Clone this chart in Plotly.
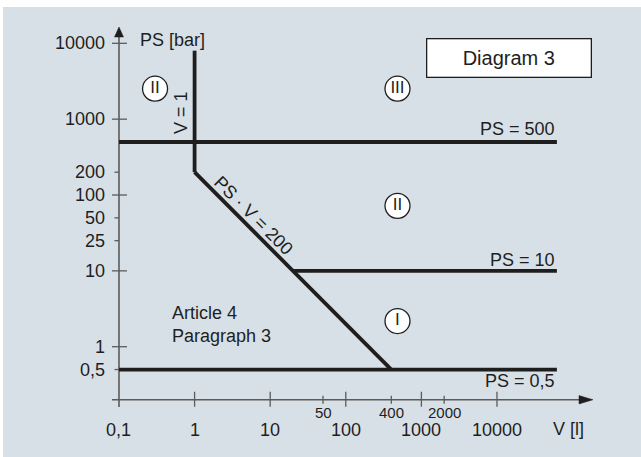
import numpy as np
import plotly.graph_objects as go

# ---- axis ticks (PS in bar, V in litres) ----
y_major = [10000, 1000, 100, 10, 1]
y_major_labels = ["10000", "1000", "100", "10", "1"]
y_minor = [200, 50, 25, 0.5]
y_minor_labels = ["200", "50", "25", "0,5"]
x_major = [1, 10, 100, 1000, 10000]
x_major_labels = ["1", "10", "100", "1000", "10000"]
x_minor = [50, 400, 2000]
x_minor_labels = ["50", "400", "2000"]
x_origin_label = "0,1"

# ---- category boundaries ----
ps500_v = [0.1, 62000]
ps500_p = [500, 500]
v1_v = [1, 1]
v1_p = [200, 8000]
psv200_v = [1, 400]
psv200_p = [200, 0.5]
ps10_v = [20, 62000]
ps10_p = [10, 10]
ps05_v = [0.1, 62000]
ps05_p = [0.5, 0.5]

# ---- category markers ----
cat_text = ["II", "III", "II", "I"]
cat_v = [0.30, 483, 483, 483]
cat_p = [2520, 2520, 72, 2.18]

# axis extents
x_axis_v = [0.0808, 121600]
x_axis_p = 0.2
y_axis_v = 0.1
y_axis_p = [0.160, 12100]

BG = "#d8e0e7"
INK = "#1e1e1e"
AXIS = "#5b5b5b"
FONT = "Liberation Sans, Arial, sans-serif"

XPD = 75.6   # px per decade, x
YPD = 75.85  # px per decade, y

fig = go.Figure()

def seg(xs, ys, color=INK, width=3.8):
    fig.add_trace(go.Scatter(x=xs, y=ys, mode="lines", hoverinfo="skip",
                             line=dict(color=color, width=width)))

# axes
seg(x_axis_v, [x_axis_p, x_axis_p], AXIS, 1.6)
seg([y_axis_v, y_axis_v], y_axis_p, AXIS, 1.6)

# arrowheads
def up_arrow(v, tip, base):
    h = 4.5 / XPD
    xs = [v, v * 10 ** h, v * 10 ** -h, v]
    ys = [tip, base, base, tip]
    fig.add_trace(go.Scatter(x=xs, y=ys, mode="lines", fill="toself", fillcolor=INK,
                             line=dict(color=INK, width=0.5), hoverinfo="skip"))

def right_arrow(p, tip, base):
    h = 4.2 / YPD
    ys = [p, p * 10 ** h, p * 10 ** -h, p]
    xs = [tip, base, base, tip]
    fig.add_trace(go.Scatter(x=xs, y=ys, mode="lines", fill="toself", fillcolor=INK,
                             line=dict(color=INK, width=0.5), hoverinfo="skip"))

up_arrow(y_axis_v, 16400, 12100)
right_arrow(x_axis_p, 186000, 121600)

# ticks
tx, ty = [], []
for p in y_major:
    tx += [y_axis_v * 10 ** (-7 / XPD), y_axis_v * 10 ** (8 / XPD), None]
    ty += [p, p, None]
for p in y_minor:
    tx += [y_axis_v * 10 ** (-4.5 / XPD), y_axis_v, None]
    ty += [p, p, None]
for v in x_major:
    tx += [v, v, None]
    ty += [x_axis_p * 10 ** (-7 / YPD), x_axis_p * 10 ** (8 / YPD), None]
for v in x_minor:
    tx += [v, v, None]
    ty += [x_axis_p * 10 ** (-4 / YPD), x_axis_p * 10 ** (4 / YPD), None]
seg(tx, ty, AXIS, 1.3)

# boundaries
for xs, ys in [(ps500_v, ps500_p), (v1_v, v1_p), (psv200_v, psv200_p),
               (ps10_v, ps10_p), (ps05_v, ps05_p)]:
    seg(xs, ys)

# category circles
fig.add_trace(go.Scatter(
    x=cat_v, y=cat_p, mode="markers+text", text=cat_text,
    textposition="middle center", hoverinfo="skip",
    textfont=dict(family=FONT, size=17, color=INK),
    marker=dict(size=25, color="white", line=dict(color=INK, width=1.3))))

L = np.log10
ann = []

def text(v, p, s, size=18, xanchor="center", yanchor="middle", angle=0, **kw):
    ann.append(dict(x=L(v), y=L(p), text=s, showarrow=False, xanchor=xanchor,
                    yanchor=yanchor, textangle=angle,
                    font=dict(family=FONT, size=size, color=INK), **kw))

for p, s in zip(y_major + y_minor, y_major_labels + y_minor_labels):
    text(0.0693, p, s, xanchor="right")
for v, s in zip([0.1] + x_major, [x_origin_label] + x_major_labels):
    text(v, 0.0798, s)
for v, s in zip(x_minor, x_minor_labels):
    text(v, 0.135, s, size=15)

text(0.178, 11050, "PS [bar]", xanchor="left")
text(0.66, 1243, "V = 1", angle=-90)
text(6.1, 52.9, "PS · V = 200", angle=45)
text(62000, 753, "PS = 500", xanchor="right")
text(62000, 13.9, "PS = 10", xanchor="right")
text(62000, 0.358, "PS = 0,5", xanchor="right")
text(0.473, 1.96, "Article 4<br>Paragraph 3", xanchor="left", align="left")
text(88300, 0.0822, "V [l]")
text(14600, 6400, "Diagram 3", size=20, width=163, height=37,
     bgcolor="white", bordercolor=INK, borderwidth=1.3, borderpad=0)

fig.update_layout(
    width=641, height=457,
    margin=dict(l=0, r=0, t=0, b=0),
    paper_bgcolor="white", plot_bgcolor="white",
    showlegend=False,
    xaxis=dict(type="log", range=[-2.574, 5.905], visible=False, fixedrange=True),
    yaxis=dict(type="log", range=[-1.454, 4.571], visible=False, fixedrange=True),
    annotations=ann,
    shapes=[dict(type="rect", xref="paper", yref="paper", x0=3 / 641, x1=1,
                 y0=0, y1=1 - 7 / 457, fillcolor=BG, line_width=0, layer="below")],
)

fig.write_html("out.html")
